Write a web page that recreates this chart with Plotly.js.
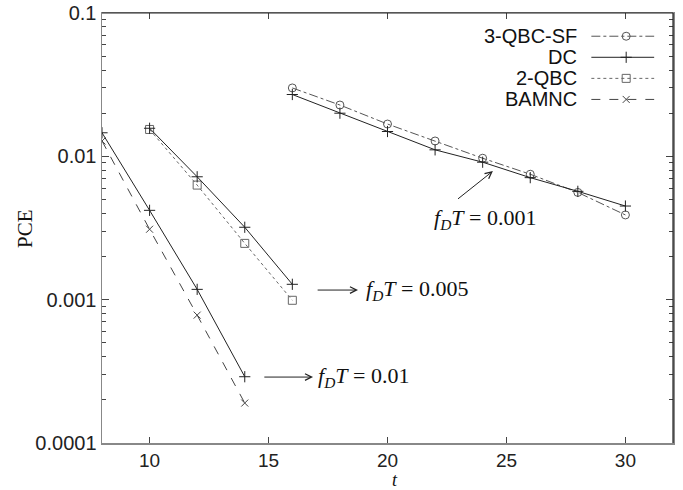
<!DOCTYPE html>
<html>
<head>
<meta charset="utf-8">
<script src="https://cdn.plot.ly/plotly-3.0.1.min.js"></script>
<style>html,body{margin:0;padding:0;background:#fff;}#chart{width:683px;height:490px;}</style>
</head>
<body>
<div id="chart"></div>
<script>
// ---- data ----
const t_fd001 = [16, 18, 20, 22, 24, 26, 28, 30];
const dc_fd001 = [0.027, 0.020, 0.0149, 0.0111, 0.0091, 0.0071, 0.0057, 0.0045];
const qbcsf_fd001 = [0.030, 0.0228, 0.0168, 0.0128, 0.0097, 0.0075, 0.0056, 0.0039];

const t_fd005 = [10, 12, 14, 16];
const dc_fd005 = [0.0157, 0.0072, 0.0032, 0.00128];
const qbc2_fd005 = [0.0154, 0.0063, 0.00247, 0.00099];

const t_fd01 = [8, 10, 12, 14];
const dc_fd01 = [0.0146, 0.0042, 0.00118, 0.00029];
const bamnc_fd01 = [0.0128, 0.0031, 0.00078, 0.00019];

const seriesNames = ['3-QBC-SF', 'DC', '2-QBC', 'BAMNC'];
const yTickVals = [0.0001, 0.001, 0.01, 0.1];
const yTickText = ['0.0001', '0.001', '0.01', '0.1'];
const xTickVals = [10, 15, 20, 25, 30];
const fdLabels = ['0.001', '0.005', '0.01'];

// ---- styles ----
const styles = {
  '3-QBC-SF': {line: {color: '#555', width: 1, dash: 'dashdot'}, marker: {symbol: 'circle-open', size: 8, color: '#555', line: {width: 1, color: '#555'}}},
  'DC': {line: {color: '#222', width: 1, dash: 'solid'}, marker: {symbol: 'cross-thin-open', size: 8, color: '#222', line: {width: 1, color: '#222'}}},
  '2-QBC': {line: {color: '#666', width: 1, dash: 'dot'}, marker: {symbol: 'square-open', size: 8, color: '#666', line: {width: 1, color: '#666'}}},
  'BAMNC': {line: {color: '#444', width: 1, dash: 'dash'}, marker: {symbol: 'x-thin-open', size: 7, color: '#444', line: {width: 1, color: '#444'}}}
};
function clone(o) { return JSON.parse(JSON.stringify(o)); }

function tr(x, y, name) {
  return Object.assign({x: x, y: y, type: 'scatter', mode: 'lines+markers', name: name, showlegend: false, hoverinfo: 'x+y'}, clone(styles[name]));
}

const traces = [
  tr(t_fd001, qbcsf_fd001, '3-QBC-SF'),
  tr(t_fd001, dc_fd001, 'DC'),
  tr(t_fd005, qbc2_fd005, '2-QBC'),
  tr(t_fd005, dc_fd005, 'DC'),
  tr(t_fd01, bamnc_fd01, 'BAMNC'),
  tr(t_fd01, dc_fd01, 'DC')
];

// ---- manual legend (text left, sample right) on a hidden overlay axis in paper-like units ----
const legRowsY = [0.946, 0.897, 0.848, 0.799];
const legLineX = [0.857, 0.967];
const legMarkX = 0.918;
const legTextX = 0.835;
const legendAnn = [];
seriesNames.forEach((n, i) => {
  const st = clone(styles[n]);
  traces.push({x: legLineX, y: [legRowsY[i], legRowsY[i]], xaxis: 'x2', yaxis: 'y2', type: 'scatter', mode: 'lines', showlegend: false, hoverinfo: 'skip', line: st.line});
  traces.push({x: [legMarkX], y: [legRowsY[i]], xaxis: 'x2', yaxis: 'y2', type: 'scatter', mode: 'markers', showlegend: false, hoverinfo: 'skip', marker: st.marker});
  legendAnn.push({xref: 'x2', yref: 'y2', x: legTextX, y: legRowsY[i], text: n, showarrow: false, xanchor: 'right', yanchor: 'middle',
    font: {family: 'Liberation Sans, Arial, sans-serif', size: 20, color: '#111'}});
});

const mathFont = {family: 'Liberation Serif, DejaVu Serif, serif', size: 22, color: '#111'};
function fdText(v) { return '<i>f</i><sub><i>D</i></sub><i>T</i> = ' + v; }

const arrowStyle = {text: '', showarrow: true, arrowhead: 5, arrowsize: 1.3, arrowwidth: 1, arrowcolor: '#222', axref: 'x', ayref: 'y', xref: 'x', yref: 'y'};

const annotations = legendAnn.concat([
  // fDT = 0.001
  Object.assign({x: 24.43, y: -2.103, ax: 22.9, ay: -2.305}, arrowStyle),
  {x: 24.1, y: -2.44, xref: 'x', yref: 'y', text: fdText(fdLabels[0]), showarrow: false, xanchor: 'center', yanchor: 'middle', font: mathFont},
  // fDT = 0.005
  Object.assign({x: 18.76, y: -2.933, ax: 17.0, ay: -2.933}, arrowStyle),
  {x: 19.0, y: -2.933, xref: 'x', yref: 'y', text: fdText(fdLabels[1]), showarrow: false, xanchor: 'left', yanchor: 'middle', font: mathFont},
  // fDT = 0.01
  Object.assign({x: 16.87, y: -3.54, ax: 14.76, ay: -3.54}, arrowStyle),
  {x: 17.0, y: -3.54, xref: 'x', yref: 'y', text: fdText(fdLabels[2]), showarrow: false, xanchor: 'left', yanchor: 'middle', font: mathFont},
  // axis titles
  {xref: 'paper', yref: 'paper', x: -0.135, y: 0.5, text: 'PCE', textangle: -90, showarrow: false, xanchor: 'center', yanchor: 'middle',
    font: {family: 'Liberation Serif, serif', size: 21, color: '#111'}},
  {xref: 'x', yref: 'paper', x: 20.3, y: -0.087, text: '<i>t</i>', showarrow: false, xanchor: 'center', yanchor: 'middle',
    font: {family: 'Liberation Serif, serif', size: 18, color: '#111'}}
]);

const minorVals = [];
[0.0001, 0.001, 0.01].forEach(d => { for (let k = 2; k <= 9; k++) minorVals.push(d * k); });

const tickFont = {family: 'Liberation Sans, Arial, sans-serif', size: 20, color: '#222'};

const layout = {
  width: 683, height: 490,
  margin: {l: 102, r: 10, t: 13, b: 47},
  paper_bgcolor: '#fff', plot_bgcolor: '#fff',
  showlegend: false,
  xaxis: {
    range: [8, 32], tickvals: xTickVals, ticks: 'inside', ticklen: 6, tickcolor: '#444',
    showgrid: false, zeroline: false, showline: true, linecolor: '#888', linewidth: 1.5, mirror: 'ticks',
    tickfont: {family: 'Liberation Sans, Arial, sans-serif', size: 19, color: '#222'}, automargin: false
  },
  yaxis: {
    type: 'log', range: [-4, -1], tickvals: yTickVals, ticktext: yTickText, ticks: 'inside', ticklen: 7, tickcolor: '#444',
    minor: {tickvals: minorVals, ticks: 'inside', ticklen: 4, tickcolor: '#444', showgrid: false},
    showgrid: false, zeroline: false, showline: true, linecolor: '#888', linewidth: 1.5, mirror: 'ticks',
    tickfont: tickFont, automargin: false
  },
  xaxis2: {overlaying: 'x', range: [0, 1], visible: false, fixedrange: true},
  yaxis2: {overlaying: 'y', range: [0, 1], visible: false, fixedrange: true},
  shapes: [
    {type: 'line', xref: 'paper', yref: 'paper', x0: 0, x1: 1, y0: 1, y1: 1, line: {color: '#222', width: 1.2}},
    {type: 'line', xref: 'paper', yref: 'paper', x0: 1, x1: 1, y0: 0, y1: 1, line: {color: '#222', width: 1.2}}
  ],
  annotations: annotations
};

Plotly.newPlot('chart', traces, layout, {displayModeBar: false, staticPlot: true});
</script>
</body>
</html>
